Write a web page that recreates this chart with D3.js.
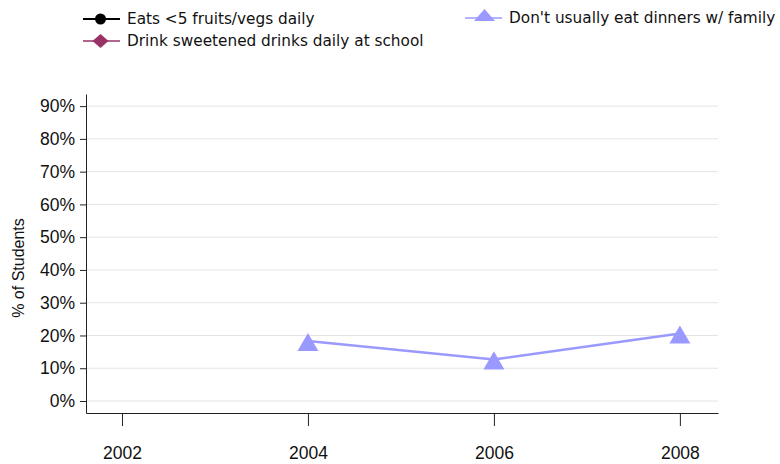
<!DOCTYPE html>
<html lang="en">
<head>
	<meta charset="UTF-8">
	<title>students</title>
	<script src="https://cdn.jsdelivr.net/npm/d3@7"></script>
	<style>
		body { margin: 0; background: #fff; }
		text { font-family: "Liberation Sans", Arial, sans-serif; }
	</style>
</head>
<body>
	<script>
	// data
	let years = [2002, 2004, 2006, 2008]
	let yTicks = [0, 10, 20, 30, 40, 50, 60, 70, 80, 90]
	let seriesNames = ['Eats <5 fruits/vegs daily', 'Drink sweetened drinks daily at school', "Don't usually eat dinners w/ family"]
	let seriesColors = ['#000000', '#993366', '#9999ff']
	let fruitsVegs = []
	let sweetDrinks = []
	let dinners = [[2004, 18.3], [2006, 12.7], [2008, 20.6]]
	let allSeries = [fruitsVegs, sweetDrinks, dinners]

	let width = 780,
		height = 464;

	let svg = d3.select('body').append('svg')
		.attr('width', width)
		.attr('height', height)

	let xScale = d3.scaleLinear()
		.domain([2001.613, 2008.41])
		.range([86, 718])

	let yScale = d3.scaleLinear()
		.domain([-3.66, 93.7])
		.range([413, 94])

	// grid
	svg.append('g')
		.selectAll('line')
		.data(yTicks)
		.enter()
		.append('line')
		.attr('x1', 86)
		.attr('x2', 718)
		.attr('y1', d => yScale(d))
		.attr('y2', d => yScale(d))
		.attr('stroke', '#e4e4e4')
		.attr('stroke-width', 1)

	let axisLeft = d3.axisLeft(yScale)
		.tickValues(yTicks)
		.tickFormat(d => d + '%')
		.tickSizeInner(6)
		.tickSizeOuter(0)
		.tickPadding(5)

	let axisBottom = d3.axisBottom(xScale)
		.tickValues(years)
		.tickFormat(d3.format('d'))
		.tickSizeInner(13)
		.tickSizeOuter(0)
		.tickPadding(21)

	svg.append('g')
		.attr('transform', 'translate(86,0)')
		.call(axisLeft)

	svg.append('g')
		.attr('transform', 'translate(0,413)')
		.call(axisBottom)

	svg.selectAll('.domain, .tick line').attr('stroke', '#222')
	svg.selectAll('.tick text')
		.attr('fill', '#111')
		.style('font-size', '17.5px')
		.style('font-family', '"Liberation Sans", Arial, sans-serif')

	svg.append('text')
		.attr('transform', 'translate(24,268) rotate(-90)')
		.attr('text-anchor', 'middle')
		.attr('fill', '#111')
		.style('font-size', '16px')
		.text('% of Students')

	// markers: circle, diamond, flat triangle
	let marker = (i) => {
		if (i === 0) return d3.symbol().type(d3.symbolCircle).size(95)()
		if (i === 1) return d3.symbol().type(d3.symbolSquare).size(128)()
		return d3.symbol().type(d3.symbolTriangle).size(190)()
	}
	let markerTf = (i, legend) => {
		if (i === 1) return ' scale(1,0.875) rotate(45)'
		if (i === 2 && legend) return ' scale(1,0.66)'
		return ''
	}

	// lines
	let line = d3.line()
		.x(d => xScale(d[0]))
		.y(d => yScale(d[1]))

	allSeries.forEach((s, i) => {
		if (!s.length) return
		svg.append('path')
			.datum(s)
			.attr('d', line)
			.attr('fill', 'none')
			.attr('stroke', seriesColors[i])
			.attr('stroke-width', 2.5)

		svg.selectAll('.pt' + i)
			.data(s)
			.enter()
			.append('path')
			.attr('d', marker(i))
			.attr('transform', d => `translate(${xScale(d[0])},${yScale(d[1]) + 4})` + markerTf(i, false))
			.attr('fill', seriesColors[i])
	})

	// legend
	let legendPos = [[83, 19], [83, 41], [465, 18]]
	let legend = svg.append('g')
		.selectAll('g')
		.data(seriesNames)
		.enter()
		.append('g')
		.attr('transform', (d, i) => `translate(${legendPos[i][0]},${legendPos[i][1]})`)

	legend.append('line')
		.attr('x1', 0)
		.attr('x2', 37)
		.attr('stroke', (d, i) => seriesColors[i])
		.attr('stroke-opacity', (d, i) => i === 0 ? 1 : 0.75)
		.attr('stroke-width', 2)

	legend.append('path')
		.attr('d', (d, i) => marker(i))
		.attr('transform', (d, i) => `translate(${i === 2 ? 19.5 : 17.5},${i === 2 ? -1 : 0})` + markerTf(i, true))
		.attr('fill', (d, i) => seriesColors[i])

	legend.append('text')
		.attr('x', 44)
		.attr('y', 5)
		.attr('fill', '#111')
		.style('font-family', '"DejaVu Sans", Verdana, sans-serif')
		.style('font-size', '15.3px')
		.text(d => d)
	</script>
</body>
</html>
